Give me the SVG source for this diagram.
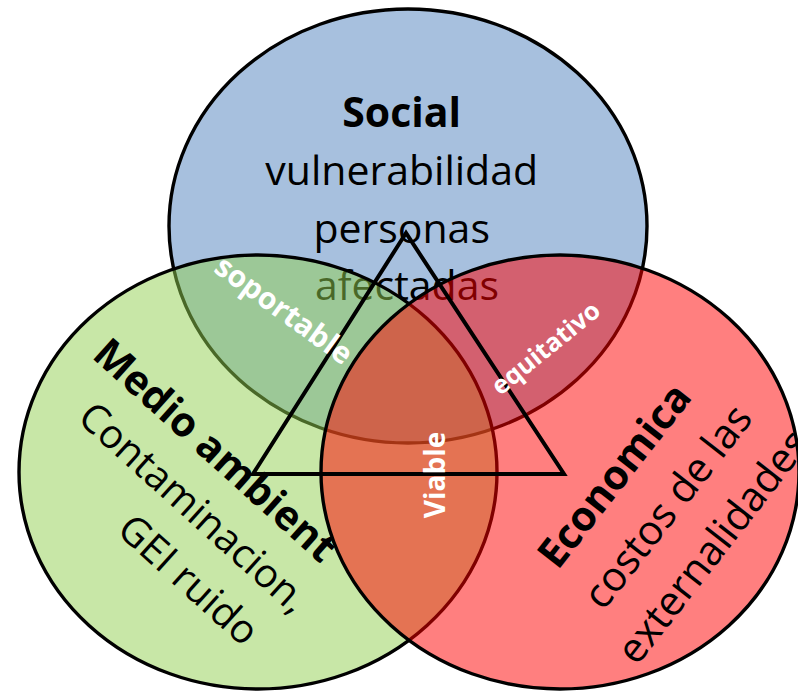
<svg xmlns="http://www.w3.org/2000/svg" width="798" height="693" viewBox="0 0 798 693">
<style>
.c{stroke:#000;stroke-width:3.4;}
.t{font-family:"Open Sans","Liberation Sans",sans-serif;fill:#000;}
.b{font-weight:700;}
.w{font-family:"Open Sans","Liberation Sans",sans-serif;font-weight:700;fill:#fff;}
</style>
<rect width="798" height="693" fill="#fff"/>
<g id="social">
<ellipse class="c" cx="408" cy="226" rx="239" ry="217" fill="#4F81BD" fill-opacity="0.5"/>
<text class="t" text-anchor="middle" font-size="41">
<tspan x="407" y="127" font-weight="700">Social</tspan>
<tspan x="407" y="185">vulnerabilidad</tspan>
<tspan x="407" y="242.5">personas</tspan>
<tspan x="407" y="300">afectadas</tspan>
</text>
</g>
<g id="medio-ambiente">
<ellipse class="c" cx="258" cy="472" rx="239" ry="217" fill="#92D050" fill-opacity="0.5"/>
<text class="t b" font-size="41" text-anchor="middle" transform="translate(205.8,460.7) rotate(42)">Medio ambient</text>
<text class="t" font-size="40" text-anchor="middle" transform="translate(184.6,517.9) rotate(42)">Contaminacion,</text>
<text class="t" font-size="40" text-anchor="middle" transform="translate(179.3,590) rotate(42)">GEI ruido</text>
</g>
<g id="economica">
<ellipse class="c" cx="560" cy="472" rx="239" ry="217" fill="#FF0000" fill-opacity="0.5"/>
<text class="t b" font-size="41" text-anchor="middle" transform="translate(625.5,484.2) rotate(-52)">Economica</text>
<text class="t" font-size="41" text-anchor="middle" transform="translate(678.7,515.3) rotate(-52)">costos de las</text>
<text class="t" font-size="41" text-anchor="middle" transform="translate(723.9,555.2) rotate(-52)">externalidades</text>
</g>
<g id="connectors">
<polygon points="406,233 253,474 564,474" fill="none" stroke="#000" stroke-width="4" stroke-linejoin="miter"/>
</g>
<g id="soportable">
<text class="w" font-size="30" text-anchor="middle" transform="translate(277.8,318.4) rotate(36)">soportable</text>
</g>
<g id="equitativo">
<text class="w" font-size="25.5" text-anchor="middle" transform="translate(551.3,354.8) rotate(-39)">equitativo</text>
</g>
<g id="viable">
<text class="w" font-size="28" text-anchor="middle" transform="translate(445,475) rotate(-90)">Viable</text>
</g>
</svg>
